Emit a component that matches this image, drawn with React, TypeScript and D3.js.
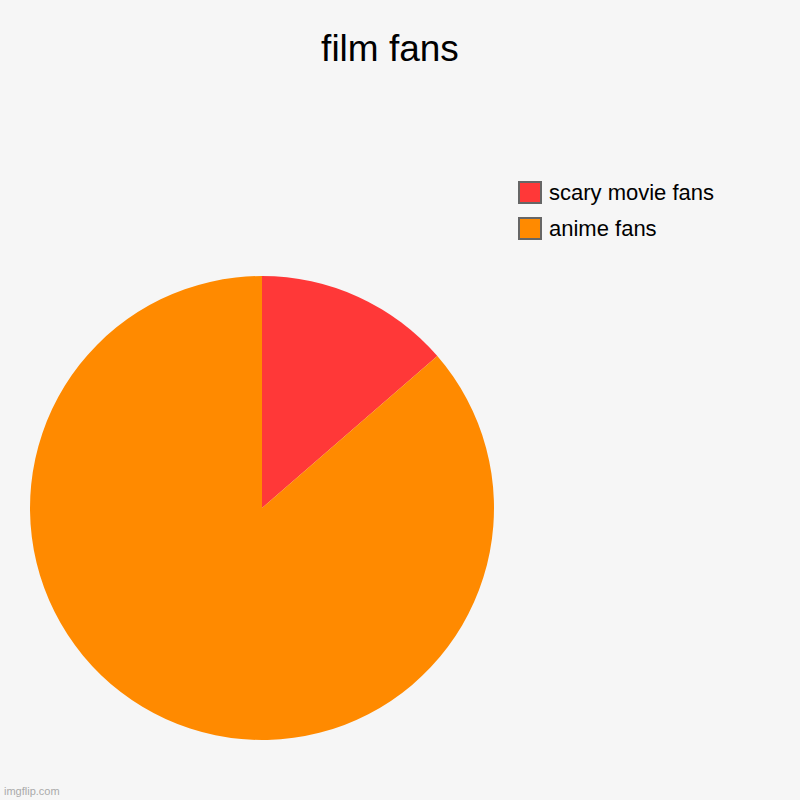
import { useEffect, useRef } from 'react'
import * as d3 from 'd3'

// slice data
const labels = ['scary movie fans', 'anime fans']
const values = [15, 95]
const colors = ['#ff3838', '#ff8a00']

const W = 800
const H = 800

export default function App() {
	const ref = useRef<SVGSVGElement>(null)

	useEffect(() => {
		const svg = d3.select(ref.current)
		svg.selectAll('*').remove()

		svg.append('rect').attr('width', W).attr('height', H).attr('fill', '#f6f6f6')

		// title
		svg.append('text')
			.attr('x', 390)
			.attr('y', 61)
			.attr('text-anchor', 'middle')
			.attr('font-family', 'Liberation Sans, Arial, sans-serif')
			.attr('font-size', '37px')
			.attr('fill', '#000')
			.text('film fans')

		const cx = 262
		const cy = 508
		const r = 232

		const pie = d3.pie<number>().sort(null).value(d => d)
		const arc = d3.arc<d3.PieArcDatum<number>>().innerRadius(0).outerRadius(r)

		svg.append('g')
			.attr('transform', `translate(${cx}, ${cy})`)
			.selectAll('path')
			.data(pie(values))
			.enter().append('path')
			.attr('d', arc)
			.attr('fill', (d, i) => colors[i])

		// legend
		const legend = svg.append('g').attr('transform', 'translate(519, 182)')
		const items = legend.selectAll('g').data(labels)
			.enter().append('g')
			.attr('transform', (d, i) => `translate(0, ${i * 36})`)
		items.append('rect')
			.attr('width', 22)
			.attr('height', 21)
			.attr('fill', (d, i) => colors[i])
			.attr('stroke', '#666')
			.attr('stroke-width', 2)
		items.append('text')
			.attr('x', 30)
			.attr('y', 18)
			.attr('font-family', 'Liberation Sans, Arial, sans-serif')
			.attr('font-size', '22px')
			.attr('fill', '#000')
			.text(d => d)

		// watermark
		svg.append('text')
			.attr('x', 4)
			.attr('y', 795)
			.attr('font-family', 'Liberation Sans, Arial, sans-serif')
			.attr('font-size', '11px')
			.attr('fill', '#aaa')
			.text('imgflip.com')
	}, [])

	return (
		<svg ref={ref} width={W} height={H} style={{ position: 'absolute', left: 0, top: 0 }} />
	)
}
